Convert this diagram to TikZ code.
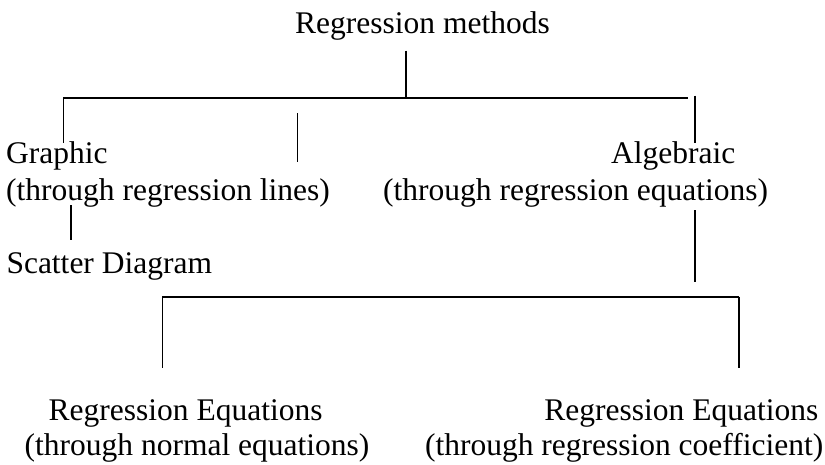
\documentclass[tikz,border=0pt]{standalone}
\usepackage{fontspec}
\setmainfont{Liberation Serif}
\usetikzlibrary{positioning}

\begin{document}
\begin{tikzpicture}[x=1pt, y=-1pt,
    lbl/.style={font=\fontsize{31.5}{37}\selectfont, inner sep=0pt, anchor=base west},
    rama/.style={line width=1.2pt},
    barra/.style={line width=2pt}]
\useasboundingbox (0,0) rectangle (825,464);

% textos
\node[lbl] (metodos) at (295,33.3) {Regression methods};
\node[lbl] (graf) at (6,163) {Graphic};
\node[lbl] (grafsub) at (6,200) {(through regression lines)};
\node[lbl] (alg) at (611,163) {Algebraic};
\node[lbl] (algsub) at (383,200) {(through regression equations)};
\node[lbl] (scatter) at (6.3,273.3) {Scatter Diagram};
\node[lbl] (normal) at (48.5,420.7) {Regression Equations};
\node[lbl] (normalsub) at (24.5,455.7) {(through normal equations)};
\node[lbl, anchor=base east] (coef) at (818.5,420.7) {Regression Equations};
\node[lbl, anchor=base east] (coefsub) at (823.5,455.7) {(through regression coefficient)};

% puntos de las ramas
\coordinate (raiz) at (406,50.7);
\coordinate (nudo) at (406,97.7);
\coordinate (izqA) at (63.3,97.7);
\coordinate (izqB) at (63.3,142.7);
\coordinate (derA) at (688,97.7);
\coordinate (medA) at (297.3,113);
\coordinate (medB) at (297.3,162);
\coordinate (algA) at (695,95.7);
\coordinate (algB) at (695,143.3);
\coordinate (scA) at (71,205);
\coordinate (scB) at (71,240);
\coordinate (bajA) at (695,210);
\coordinate (bajB) at (695,281.7);
\coordinate (corA) at (162.3,296.7);
\coordinate (corB) at (739,296.7);
\coordinate (normA) at (162.3,368.3);
\coordinate (coefA) at (739,368.3);

% ramas arriba
\draw[rama] (raiz) -- (nudo);
\draw[barra] (izqA) -- (derA);
\draw[rama] (izqA) -- (izqB);
\draw[rama] (medA) -- (medB);
\draw[rama] (algA) -- (algB);

% ramas abajo
\draw[rama] (scA) -- (scB);
\draw[rama] (bajA) -- (bajB);
\draw[barra] (corA) -- (corB);
\draw[rama] (corA) -- (normA);
\draw[rama] (corB) -- (coefA);

\end{tikzpicture}
\end{document}
